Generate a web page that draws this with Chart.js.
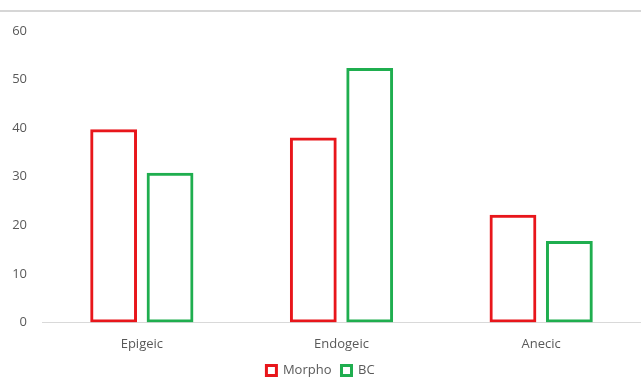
<!DOCTYPE html>
<html>
<head>
<meta charset="utf-8">
<script src="https://cdn.jsdelivr.net/npm/chart.js@4/dist/chart.umd.min.js"></script>
<style>
  html, body { margin: 0; padding: 0; background: #ffffff; }
  #wrap { width: 641px; height: 387px; position: relative; }
</style>
</head>
<body>
<div id="wrap"><canvas id="chart" width="641" height="387"></canvas></div>
<script>
// Earthworm ecological groups, two classification methods
const categories = ['Epigeic', 'Endogeic', 'Anecic'];
const morphoValues = [39.8, 38.1, 22.2];
const bcValues = [30.8, 52.4, 16.8];
const yTicks = [0, 10, 20, 30, 40, 50, 60];

const RED = '#e8161b';
const GREEN = '#1fae4f';
const TEXT = '#595959';
const FONT = '"Open Sans", Lato, sans-serif';

// thin grey rule across the top of the figure
const topRule = {
  id: 'topRule',
  beforeDraw(chart) {
    const ctx = chart.ctx;
    ctx.save();
    ctx.fillStyle = '#ffffff';
    ctx.fillRect(0, 0, chart.width, chart.height);
    ctx.strokeStyle = '#d6d6d6';
    ctx.lineWidth = 2;
    ctx.beginPath();
    ctx.moveTo(0, 11);
    ctx.lineTo(chart.width, 11);
    ctx.stroke();
    ctx.restore();
  }
};

new Chart(document.getElementById('chart'), {
  type: 'bar',
  data: {
    labels: categories,
    datasets: [
      {
        label: 'Morpho',
        data: morphoValues,
        backgroundColor: 'rgba(255,255,255,0)',
        borderColor: RED,
        borderWidth: 3,
        borderSkipped: false,
        categoryPercentage: 0.565,
        barPercentage: 0.83
      },
      {
        label: 'BC',
        data: bcValues,
        backgroundColor: 'rgba(255,255,255,0)',
        borderColor: GREEN,
        borderWidth: 3,
        borderSkipped: false,
        categoryPercentage: 0.565,
        barPercentage: 0.83
      }
    ]
  },
  options: {
    responsive: false,
    animation: false,
    layout: { padding: { top: 31, right: 0, bottom: 0, left: 0 } },
    plugins: {
      tooltip: { enabled: false },
      legend: {
        position: 'bottom',
        labels: {
          color: TEXT,
          font: { family: FONT, size: 13 },
          boxWidth: 10,
          boxHeight: 10,
          padding: 10,
          generateLabels(chart) {
            return chart.data.datasets.map((ds, i) => ({
              text: ds.label,
              fillStyle: '#ffffff',
              strokeStyle: ds.borderColor,
              lineWidth: 3,
              fontColor: TEXT,
              hidden: false,
              datasetIndex: i
            }));
          }
        }
      }
    },
    scales: {
      x: {
        afterFit(scale) { scale.height = 31.5; },
        grid: { display: false, drawTicks: false },
        border: { display: true, color: '#d9d9d9', width: 1 },
        ticks: { color: TEXT, font: { family: FONT, size: 13 }, padding: 14 }
      },
      y: {
        min: 0,
        max: 60,
        afterBuildTicks(scale) {
          scale.ticks = yTicks.map(v => ({ value: v }));
        },
        afterFit(scale) { scale.width = 42; },
        grid: { display: false, drawTicks: false },
        border: { display: false },
        ticks: { color: TEXT, font: { family: FONT, size: 13 }, padding: 15 }
      }
    }
  },
  plugins: [topRule]
});
</script>
</body>
</html>
